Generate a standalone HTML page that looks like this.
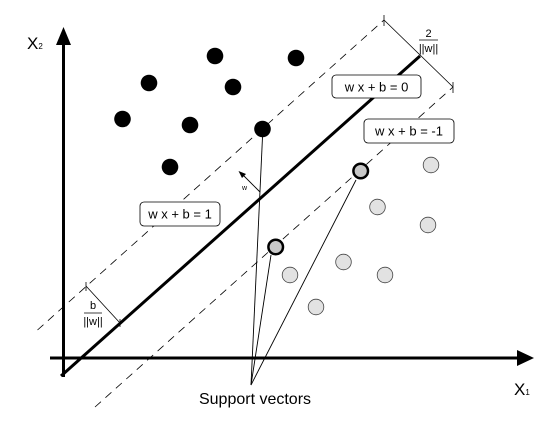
<!DOCTYPE html>
<html><head><style>body{margin:0;background:#fff}svg{display:block}text{font-family:"Liberation Sans",sans-serif;fill:#000}</style></head>
<body>
<svg width="556" height="432" viewBox="0 0 556 432">
<line x1="63.5" y1="40" x2="63.5" y2="377" stroke="#000" stroke-width="3"/>
<polygon points="63.5,27 56,45 71,45" fill="#000"/>
<line x1="50" y1="358" x2="520" y2="358" stroke="#000" stroke-width="3"/>
<polygon points="534,358 517,350 517,366" fill="#000"/>
<line x1="61" y1="376" x2="420" y2="56" stroke="#000" stroke-width="3"/>
<line x1="37.5" y1="330" x2="384" y2="20" stroke="#000" stroke-width="0.8" stroke-dasharray="8,6"/>
<line x1="95" y1="407" x2="453" y2="87" stroke="#000" stroke-width="0.8" stroke-dasharray="8,6"/>
<line x1="384" y1="20" x2="453" y2="87" stroke="#000" stroke-width="0.8"/>
<line x1="384" y1="15" x2="384" y2="26" stroke="#000" stroke-width="0.8"/>
<line x1="453" y1="82" x2="453" y2="93" stroke="#000" stroke-width="0.8"/>
<line x1="86" y1="286" x2="120" y2="323" stroke="#000" stroke-width="0.8"/>
<line x1="86" y1="282" x2="86" y2="291" stroke="#000" stroke-width="0.8"/>
<line x1="120" y1="319" x2="120" y2="327" stroke="#000" stroke-width="0.8"/>
<g fill="#000">
<circle cx="215" cy="56" r="8.3"/><circle cx="296" cy="58" r="8.3"/><circle cx="149" cy="83" r="8.3"/><circle cx="233" cy="87" r="8.3"/><circle cx="122.5" cy="119" r="8.3"/><circle cx="190" cy="125" r="8.3"/><circle cx="262.5" cy="129" r="8.3"/><circle cx="170" cy="167" r="8.3"/>
</g>
<g fill="#e2e2e2" stroke="#444" stroke-width="0.8">
<circle cx="431" cy="165" r="7.8"/><circle cx="377.5" cy="207" r="7.8"/><circle cx="428" cy="225" r="7.8"/><circle cx="343.5" cy="262" r="7.8"/><circle cx="385" cy="275" r="7.8"/><circle cx="290" cy="275" r="7.8"/><circle cx="316" cy="307" r="7.8"/>
</g>
<g fill="#c8c8c8" stroke="#000" stroke-width="2.5">
<circle cx="360.7" cy="171" r="7.3"/><circle cx="275.7" cy="247" r="7.3"/>
</g>
<g stroke="#000" stroke-width="0.9">
<line x1="251" y1="385" x2="262.5" y2="137"/><line x1="251" y1="385" x2="271" y2="255"/><line x1="251" y1="385" x2="356" y2="180"/>
<line x1="260" y1="192" x2="242" y2="174"/>
</g>
<polygon points="238.5,171 246,174 242,178" fill="#000"/>
<text x="242" y="190" font-size="7">w</text>
<g fill="#fff" stroke="#000" stroke-width="0.8">
<rect x="332" y="75" width="89" height="23" rx="4"/>
<rect x="364" y="119" width="90" height="24" rx="4"/>
<rect x="140" y="202" width="80" height="24" rx="4"/>
</g>
<g font-size="13" text-anchor="middle">
<text x="376.5" y="91.5">w x + b = 0</text>
<text x="409" y="135.5">w x + b = -1</text>
<text x="180" y="218.5">w x + b = 1</text>
</g>
<text x="27" y="49" font-size="17">X<tspan font-size="8">2</tspan></text>
<text x="514" y="395" font-size="17">X<tspan font-size="8">1</tspan></text>
<text x="255" y="404" font-size="16" text-anchor="middle">Support vectors</text>
<g font-size="11" text-anchor="middle">
<text x="428.5" y="37">2</text>
<text x="428.5" y="52">||w||</text>
<text x="93" y="309">b</text>
<text x="93" y="325">||w||</text>
</g>
<line x1="419" y1="40" x2="438" y2="40" stroke="#000" stroke-width="0.8"/>
<line x1="84" y1="313" x2="102" y2="313" stroke="#000" stroke-width="0.8"/>
</svg>
</body></html>
